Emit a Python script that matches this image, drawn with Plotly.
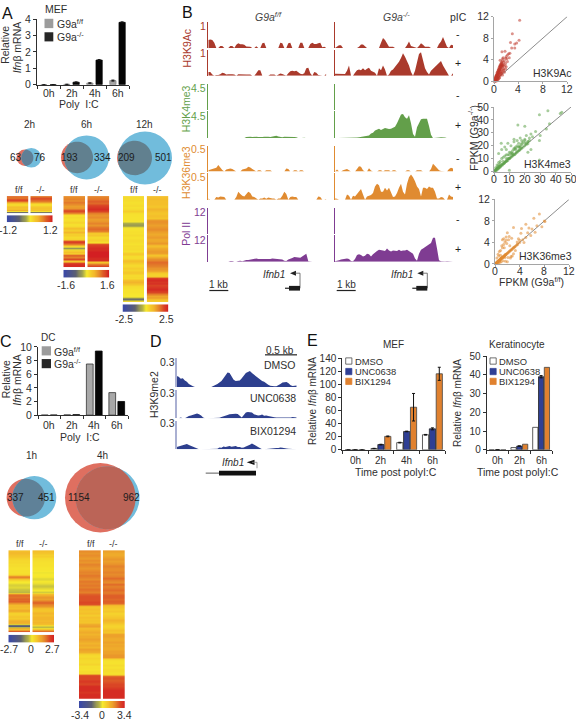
import numpy as np
import plotly.graph_objects as go

# ---------- data ----------
HOURS4 = ["0h", "2h", "4h", "6h"]
HOURS3 = ["0h", "2h", "6h"]
A_FF = [0, 0.02, 0.1, 0.25]
A_KO = [0, 0.15, 1.5, 3.8]
A_FF_ERR = [0, 0, 0.01, 0.03]
A_KO_ERR = [0, 0.02, 0.03, 0.03]
C_FF = [0, 0.03, 7.5, 3.3]
C_KO = [0, 0.06, 9.4, 2.0]
E1_DMSO = [0, 2, 11, 23]
E1_UNC = [0, 8, 28, 32]
E1_BIX = [0, 20.5, 65, 116]
E1_DMSO_ERR = [0, 0.3, 0.5, 0.5]
E1_UNC_ERR = [0, 0.5, 0.5, 1.5]
E1_BIX_ERR = [0, 0.6, 21, 10]
E2_DMSO = [0, 1.2, 12]
E2_UNC = [0, 2, 39]
E2_BIX = [0, 3, 44]
E2_UNC_ERR = [0, 0.1, 0.6]

A2_FF = [.7,.6,.75,.85,.5,.3,.15,.05,.2,.3,.25,.35,.45,-.4,-.7]
A2_KO = [.65,.8,.85,.7,.55,.35,.1,.05,.15,.25,.3,.2,.35,-.3,-.6]
A6_FF = [.55,.6,.5,.65,.55,.45,.5,.8,.85,.55,.05,.1,.05,.1,.2,.05,.1,.3,.2,.35,.15,.2,.1,.15,.85,.9,.6,.1,-.3,.15,.3,.1,.75,.6,.85,.2,.9,.95,.95]
A6_KO = [.6,.65,.75,.7,.85,.9,.95,.85,.6,.5,.55,.45,.5,.6,.5,.65,.7,.6,.2,.25,.1,.15,.2,.05,.85,.9,.95,.95,1,1,1,.95,.95,.2,.65,.85]
A12_FF = [.1,.08,.1,.06,.08,.12,.06,.1,.2,.08,.06,.05,.05,.03,.02,-.2,-.25,-.1,.02,.05,.08,.06,.1,.05,.06,.1,.08,.05,.12,.08,.1,.06,.2,.22,.08,.1,.25,.3,.2,.1,.12,.2,.15,.25,.22,.1,.12,.08,.3,.35,.25,.1,.08,.05,.05,.03,.02,.02,-.2,-.45,.1]
A12_KO = [.3,.32,.28,.3,.3,.25,.3,.35,.3,.25,.28,.3,.25,.5,.55,.5,.45,.5,.55,.5,.45,.4,.45,.5,.4,.42,.5,.35,.3,.4,.45,.5,.45,.25,.4,.55,.6,.7,.65,.6,.5,.5,.4,.2,.15,.2,.9,.95,.9,.95,.85,.9,.95,.9,.85,.6,.4,.5,.3,.2]
C1_FF = [.3,.35,.3,.25,.2,.15,.1,.12,.08,.1,.06,.05,.08,.05,.1,.5,.6,.2,.05,0,-.05,-.08,-.05,-.1,-.12,-.15,.55,.7,.65,.75,.7,.8,.5,.3,.35,.3,.4,.35,.15,.2,.3,.2,.35,.4,.35,-.5,-.6,.4,.2,.8]
C1_KO = [.3,.25,.15,.2,.1,.08,.05,.06,.05,.03,.02,.02,-.02,0,.02,-.05,-.06,0,-.03,-.1,-.12,-.05,0,-.1,.35,.4,.5,.45,.65,.8,.6,.5,.3,.25,.3,.35,.3,.35,.35,.3,.35,.3,-.1,-.2,.3,.7]
C4_FF = [.55,.5,.55,.5,.45,.55,.5,.6,.55,.5,.55,.6,.55,.65,.6,.55,.65,.6,.65,.6,.7,.65,.6,.75,.8,.8,.8,.85,.8,.3,.25,.3,.25,.3,.2,.3,.25,.3,.25,.4,.45,.3,.35,.4,.35,.4,.4,.45,.4,.35,.4,.35,.45,.4,.35,.15,.1,.15,.1,.1,.15,.05,.1,.05,.1,.1,.85,.85,.85,.9,.85,.85,.95,.95,.95,.9,.95,.95,.95]
C4_KO = [.45,.4,.4,.45,.5,.45,.5,.55,.6,.55,.55,.6,.55,.6,.7,.6,.55,.7,.6,.65,.7,.6,.65,.75,.75,.7,.75,.7,.3,.25,.2,.25,.15,.2,.25,.3,.35,.3,.2,.15,.2,.3,.25,.45,.45,.4,.4,.45,.4,.45,.4,.4,.45,.45,.5,.5,.1,.05,.05,.1,.05,.1,.1,.05,.1,.75,.8,.75,.8,.85,.85,.9,.95,.95,.95,.95,.95]
RAMP = [-1,-.9,-.8,-.7,-.6,-.5,-.4,-.3,-.2,-.1,0,.1,.2,.3,.4,.5,.6,.7,.8,.9,1]

K9_FF_M = [.3,.32,.3,.2,0,0,.08,.08,0,0, 0,.08,.08,0,.12,.18,.14,.14,.12,.06, .06,.05,0,0,.07,0,0,.18,.2,0, 0,0,0,0,0,0,.2,.18,0,0, .18,.2,0,0,0,0,.2,.2,0,0, 0,.15,.2,.15,.15,.18,.2,.03,.05,0]
K9_FF_P = [.15,.15,.05,0,.03,.03,.06,.12,.1,.05, .06,.07,.06,.05,0,.06,.05,.05,.04,.05, .05,.05,0,0,.1,.22,.22,0,0,0, 0,.05,.06,.05,0,.06,.09,.07,.03,0, .1,.18,.2,.18,.2,.14,.08,.06,.1,.3, .32,.1,0,.15,.12,.03,0,0,0,.08]
K9_KO_M = [0,.05,.1,.1,0,0,0,0,0,0, 0,0,.05,.13,.13,.06,0,0,0,0, 0,0,0,.2,.38,.3,.15,.05,.05,.05, 0,0,0,0,0,0,.1,.25,.08,.05, 0,0,.08,.18,.12,.05,.05,.05,0,0, 0,0,.15,.25,.42,.2,.05,0,.12,.1]
K9_KO_P = [.08,.08,.07,.07,.08,.07,.2,.4,0,0, .12,.22,.25,.22,.3,.22,.28,.32,.2,.15, .12,0,.3,.22,.4,.25,0,.05,.2,.25, .35,.42,.55,.7,.88,.75,.6,.4,.15,0, .2,.5,.85,.92,.55,.3,.15,.05,.2,.28, .32,.4,.5,.58,.4,.25,.15,0,0,.1]
K4_FF_M = [0,0,0,0,0,0,0,0,.02,0, 0,0,0,0,0,0,0,0,0,0, 0,0,0,0,0,0,0,0,0,0, 0,0,0,0,0,0,0,0,0,0, 0,.02,.02,.02,0,0,0,0,0,0, .02,0,0,0,0,0,0,0,0,0]
K4_FF_P = [0,0,0,0,0,0,.01,0,0,0, 0,0,0,0,0,0,0,0,0,.04, .05,.05,.04,.05,.05,.04,.03,.04,.05,.06, .05,.04,.05,.07,.09,.06,.05,.03,.05,.05, .05,.06,.05,.04,.03,0,0,.01,.01,0, 0,0,0,0,0,0,0,0,0,0]
K4_KO_M = [0,0,0,0,0,0,0,0,0,0, 0,.02,0,0,0,0,0,0,0,0, 0,0,0,0,0,0,0,0,0,0, 0,0,0,0,0,0,0,0,0,0, 0,0,0,0,0,0,0,0,0,0, 0,0,0,0,0,0,0,0,.02,0]
K4_KO_P = [0,0,0,0,0,0,0,0,0,0, 0,.02,.03,.04,.05,.06,.08,.1,.17,.2, .28,.33,.35,.3,.34,.38,.36,.34,.35,.38, .42,.55,.7,.88,.9,.78,.72,.85,.55,.15, .05,.4,.55,.7,.72,.72,.72,.45,.12,0, 0,.01,.02,.03,.03,.02,0,0,0,0]
K36_FF_M = [.05,.08,.08,.12,.15,.25,.15,.06,0,.08, .1,.12,.1,.04,0,0,0,.08,.1,.12, .18,.16,.1,.05,0,.05,.05,0,0,.05, .05,.05,0,0,0,0,0,0,0,.12, .1,0,0,.05,.05,0,.05,.05,0,0, 0,0,0,0,0,0,0,0,0,0]
K36_FF_P = [.05,0,0,0,.1,.08,.12,.1,.1,0, 0,0,0,0,.1,.3,.22,.15,.12,.2, .3,.25,.12,.1,.05,0,.05,.05,.08,.04, .08,.05,.05,.05,0,.05,.05,.15,.3,.22, 0,.1,.12,.1,.1,0,0,0,0,0, 0,0,0,0,0,.12,.1,0,0,.03]
K36_KO_M = [0,.08,0,0,.05,.08,.1,.05,0,0, 0,.1,.2,.18,.05,0,0,.13,.04,0, 0,0,.05,.05,0,.05,.05,.05,0,.05, .05,0,0,0,0,0,.05,.05,0,0, 0,.05,.05,.05,0,0,0,0,.1,.3, .22,.12,.05,.02,0,0,0,.1,.15,.12]
K36_KO_P = [.05,.04,0,0,0,0,.2,.15,0,.15, .12,.2,.3,.4,.2,0,.12,.15,.18,.25, .5,.6,.55,.3,.3,.45,.35,.45,.3,.1, .12,.25,.45,.6,.3,.2,.6,.85,.95,.85, .7,.5,.4,.12,.45,.45,.4,.5,.45,.45, .3,.05,.05,.1,.08,0,0,.2,.12,.1]
P2_FF_M = [0,0,0,0,0,0,0,0,0,0, 0,0,0,0,0,0,0,0,0,0, 0,0,0,0,0,0,0,0,0,0, 0,0,0,0,0,0,0,0,0,0, 0,0,0,0,0,0,0,0,0,0, 0,0,0,0,0,0,0,0,0,0]
P2_FF_P = [0,0,0,0,0,.02,.02,.01,0,0, 0,.03,.03,0,0,.03,.04,.02,.05,.06, .06,.08,.1,.1,.12,.1,.1,.08,.09,.1, .1,.1,.12,.11,.1,.1,.09,.08,.04,.03, .08,.1,.14,.18,.18,.16,.15,.2,.25,.3, .02,0,0,0,0,0,0,0,0,0]
P2_KO_M = [0,0,0,0,0,0,0,0,0,0, 0,0,0,0,0,0,0,0,0,0, 0,0,0,0,0,0,0,0,0,0, 0,0,0,0,0,0,0,0,0,0, 0,0,0,0,0,0,0,0,0,0, 0,0,0,0,0,0,0,0,0,0]
P2_KO_P = [.02,.03,.05,.08,.1,.1,.12,.1,.03,.02, .1,.25,.28,.25,.2,.22,.3,.28,.2,.28, .35,.4,.45,.42,.42,.4,.5,.42,.38,.42, .4,.4,.45,.4,.42,.42,.45,.4,.35,.3, .12,.04,.3,.45,.5,.55,.6,.65,.7,.9, .9,.5,.05,.02,.01,.01,.02,.02,.02,0]
D_DMSO = [.38,.35,.28,.3,.22,.18,.1,.05,.02,0, 0,0,0,0,0,0,0,0,.03,.06, .1,.15,.2,.3,.42,.5,.48,.38,.25,.2, .2,.22,.3,.4,.48,.52,.55,.48,.42,.35, .3,.25,.2,.18,.12,.07,.04,.02,.02,.02, .05,.1,.15,.17,.17,.13,.06,.03,.03,.05]
D_UNC = [0,0,.03,0,0,.05,.08,.1,.12,.15, .17,.14,.1,.03,0,0,0,0,.02,.02, .02,.02,.05,.08,.1,.12,.14,.15,.17,.16, .15,.1,.03,.12,.2,.22,.21,.2,.14,.12, .1,.11,.13,.09,.1,.08,.06,.05,.04,.03, .03,.02,.02,.01,.02,.02,.03,.05,.05,.03]
D_BIX = [.08,.1,.12,.14,.17,.18,.15,.12,.08,.05, .03,0,0,0,0,0,0,0,0,0, .02,.06,.05,.1,.08,.1,.11,.09,.1,.11, .08,.08,.05,.06,.1,.12,.16,.2,.17,.12, .08,.04,0,0,.01,.02,.03,.03,.05,.04, .04,.06,.05,.03,.03,.02,.01,.01,0,0]

S9_X = [4.2,3,4.1,3.7,3.4,2.7,2.9,3.4,1.3,1.8,2.4,2.2,2.6,2,1.5,1.9,2.1,2.5,1.4,1.7,2.2,1,1.3,1.6,1.9,1.2,1.5,1.8,2,1.1,1.4,1.6,1,1.2,1.5,.9,1.1,1.3,1.7,.8,1,1.2,.7,.9,1.1,1.4,.6,.8,1,.5,.7,.9,.4,.6,.8,.3,.5,.7,.2,.4,.6,.1,.2,.3,.4,.15,.25,.1,.05,.5,1.3,1.6,1.9,.35,.45,.55,.65,.75,.85,.95,1.05,1.15,1.25,1.35,
        .1,.15,.2,.25,.3,.35,.4,.45,.5,.55,.6,.65,.7,.75,.8,.85,.9,.95,1,1.1,1.2,1.3,1.4,1.5,.2,.3,.4,.5,.6,.7,.8,.9,1,1.1,1.2]
S9_Y = [11.3,8.8,7.6,7.1,6.9,7.2,6.2,6.2,5.5,5.6,5.1,4.9,5.2,4.6,4.4,4.3,4.2,4.4,4.2,3.8,3.7,3.9,3.4,3.5,3.3,3.1,3,2.9,2.7,2.8,2.6,2.4,2.3,2.2,2.1,2,1.9,1.8,1.7,1.7,1.5,1.5,1.4,1.3,1.3,1.2,1.1,1,1,.9,.8,.7,.7,.6,.6,.5,.4,.4,.3,.3,.3,.2,.15,.2,.1,.1,.1,.05,.05,.55,1.6,2,2.3,.9,1.2,1.5,1.9,2.2,2.6,2.9,3.1,3.3,3.6,3.8,
        .3,.45,.5,.7,.8,.75,1,1.1,1.1,1.3,1.35,1.5,1.6,1.7,1.9,2,2.1,2.3,2.4,2.5,2.7,2.8,3,3.1,.6,1,1.2,1.6,1.8,2.1,2.3,2.5,2.8,2.9,3.2]
S4_X = [44,43,35,29.5,36,34,30,27,25,24,23,21,20,22,18,17,16,15.5,20,14,13,12,11,10,9,8,7,6,5,4,3,2,1,.5,1,2,3,4,5,6,7,8,9,10,11,12,13,14,15,16,17,18,19,20,21,22,23,3,5,7,9,11,13,15,17,4.7,13,8,10,29.5,29.5,24,22,
        1,1.5,2,2.5,3,3.5,4,4.5,5,5.5,6,6.5,7,7.5,8,8.5,9,9.5,10,10.5,11,11.5,12,12.5,13,13.5,14,14.5,15,15.5,16,16.5,17,17.5,18,19,20,21,22,2,3,4,6,8,10,12,14,16,18,20,.8,1.2,1.8,2.2,2.8,3.2,3.8]
S4_Y = [46,45,47,44,37,33,28,31,27,29,26,28,25,23,24,20,22,36,35,19,17,14,14,10,10,8,7,6,5,4,3,2,1,.5,3,5,7,8,10,11,12,13,13,15,15,16,18,18,20,19,19,22,23,22,22,23,24,14,17,19,22,20,25,24,26,22,23,17,1,24,9,17,15,
        1,1.5,2.4,2.3,3,3.8,4,4.2,5.3,5,6.1,6.2,7,7.8,8,8.9,8.6,9.8,10,10.7,11,12,12,12.8,13,13.2,14,15,15,15.9,16,16.4,17,18,18,19,20,21,21.5,3.5,5,6.2,8,10,13,14,17,19,21,24,.5,1.6,1,2.8,2.2,4,3.2]
S36_X = [7.2,6.3,8,5,4.3,4.2,3,2,2.3,1.8,2.7,3.8,3.6,4,5.5,6.8,6,5.3,6.5,7.6,8.1,5,4.5,4,3.6,3.2,3,2.8,2.6,2.4,2.2,2,1.8,1.6,1.4,1.2,1,.8,.6,.4,.2,.1,.3,.5,.7,.9,1.1,1.3,1.5,1.7,1.9,2.1,2.3,2.5,2.7,2.9,3.1,3.3,3.5,3.7,.5,.7,.9,1.2,1.4,1.6,1.8,2.2,2.6,3,1,1.3,1.7,2.1,.4,.6,.8,.3,1.1,1.5,1.9,2.4,2.8,1.2,1.6,2,2.5,3.3,4.7,5.8,.6,.9,1.4,
         .15,.25,.35,.45,.55,.65,.75,.85,.95,1.05,1.15,1.25,1.35,1.45,1.55,1.65,1.75,.2,.4,.6,.8,1,1.2]
S36_Y = [9.3,8.5,8,7.4,6.6,5.7,6.8,5.8,5.1,5,4.8,4.7,4.1,4.4,6.7,7.1,6.5,5.8,5.9,6.9,7.9,4.9,4.5,4,3.6,3.2,3,2.8,2.6,2.4,2.2,2,1.8,1.6,1.4,1.2,1,.8,.6,.4,.2,.1,.3,.5,.7,.9,1.1,1.3,1.5,1.7,1.9,2.1,2.3,2.5,2.7,2.9,3.1,3.3,3.5,3.7,1.8,2.3,2.5,3,3.6,4.1,4.4,4.5,1.4,1.9,.4,.6,.5,1.2,.1,.2,.3,1.1,3.4,3,3.8,3.4,1.5,4.5,1.2,.4,1.1,2.5,4,5.3,1.5,1.6,4.7,
         .2,.2,.3,.45,.5,.7,.7,.9,.9,1.1,1.1,1.3,1.3,1.5,1.5,1.7,1.7,.1,.35,.55,.75,1.05,1.15]

SANS = "Liberation Sans"
INK = "#2f2f2f"
HEAT = [[0,"#3c4aa5"],[.25,"#5d6072"],[.4,"#a8a84c"],[.5,"#f6e92f"],[.65,"#f4bf2b"],[.8,"#e5832b"],[1,"#d31f22"]]

fig = go.Figure()
layout = dict(width=576, height=725, margin=dict(l=0,r=0,t=0,b=0), autosize=False,
              paper_bgcolor="white", plot_bgcolor="rgba(0,0,0,0)", showlegend=False,
              font=dict(family=SANS, color=INK, size=10), barmode="group")
W, H = 576, 725
axis_n = [1]
annots, shapes = [], []

HIDE = dict(visible=False, showgrid=False, zeroline=False, fixedrange=True)
layout["xaxis"] = dict(HIDE, domain=[0,1], range=[0,W])
layout["yaxis"] = dict(HIDE, domain=[0,1], range=[H,0])
fig.add_trace(go.Scatter(x=[0], y=[0], mode="markers", marker=dict(size=1, opacity=0), hoverinfo="skip"))

def axes(x0, x1, yt, yb, xa, ya):
    axis_n[0] += 1
    n = axis_n[0]
    layout[f"xaxis{n}"] = dict(xa, domain=[x0/W, x1/W], anchor=f"y{n}")
    layout[f"yaxis{n}"] = dict(ya, domain=[1-yb/H, 1-yt/H], anchor=f"x{n}")
    return f"x{n}", f"y{n}"

def T(x, y, s, size=10, color=INK, anchor="center", angle=0):
    annots.append(dict(x=x, y=y, xref="x", yref="y", text=s, showarrow=False, xanchor=anchor, yanchor="middle",
                       textangle=angle, font=dict(family=SANS, size=size, color=color), borderpad=0))

def rect(x0, y0, x1, y1, fill, line=None, w=0.7):
    shapes.append(dict(type="rect", xref="x", yref="y", x0=x0, y0=y0, x1=x1, y1=y1, fillcolor=fill,
                       line=dict(color=line or fill, width=w if line else 0)))

def seg(x0, y0, x1, y1, color=INK, w=1):
    shapes.append(dict(type="line", xref="x", yref="y", x0=x0, y0=y0, x1=x1, y1=y1, line=dict(color=color, width=w)))

def tri(xt, xb, y, h, color=INK):
    shapes.append(dict(type="path", xref="x", yref="y", path=f"M {xt} {y} L {xb} {y-h} L {xb} {y+h} Z", fillcolor=color, line=dict(width=0)))

def barpanel(x0, x1, yt, yb, cats, series, ymax, yticks, gap, labely, size=10.5):
    m = len(cats)
    xa = dict(range=[-.5, m-.5], showline=True, linecolor=INK, linewidth=1, ticks="outside", ticklen=3, tickcolor=INK,
              tickvals=[i-.5 for i in range(m+1)], showticklabels=False, showgrid=False, zeroline=False, fixedrange=True)
    ya = dict(range=[0, ymax], showline=True, linecolor=INK, linewidth=1, ticks="outside", ticklen=3, tickcolor=INK,
              tickvals=yticks, tickfont=dict(family=SANS, size=size, color=INK), showgrid=False, zeroline=False, fixedrange=True)
    xn, yn = axes(x0, x1, yt, yb, xa, ya)
    for vals, col, lc, err in series:
        fig.add_trace(go.Bar(x=list(range(m)), y=vals, marker=dict(color=col, line=dict(color=lc, width=.8)),
                             width=gap, offsetgroup=col, xaxis=xn, yaxis=yn,
                             error_y=dict(type="data", array=err, color="#111", thickness=1, width=1.5, visible=err is not None)))
    step = (x1-x0)/m
    for i, c in enumerate(cats):
        T(x0+step*(i+.5), labely, c, size)

def heat(x0, x1, yt, yb, rows):
    xn, yn = axes(x0, x1, yt, yb, dict(HIDE), dict(HIDE, autorange="reversed"))
    fig.add_trace(go.Heatmap(z=[[v, v] for v in rows], zmin=-1, zmax=1, colorscale=HEAT, showscale=False, zsmooth="best",
                             xaxis=xn, yaxis=yn, hoverinfo="skip"))

def ramp(x0, x1, yt, yb):
    xn, yn = axes(x0, x1, yt, yb, dict(HIDE), dict(HIDE))
    fig.add_trace(go.Heatmap(z=[RAMP, RAMP], zmin=-1, zmax=1, colorscale=HEAT, showscale=False, zsmooth="best",
                             xaxis=xn, yaxis=yn, hoverinfo="skip"))

def track(vals, color, x0, x1, yt, yb, axcol=None, axw=1):
    xa = dict(HIDE, range=[0, len(vals)-1])
    ya = dict(range=[0,1], showline=True, linecolor=axcol or color, linewidth=axw, ticks="", showticklabels=False,
              tickmode="array", tickvals=[], showgrid=False, zeroline=False, fixedrange=True)
    xn, yn = axes(x0, x1, yt, yb, xa, ya)
    fig.add_trace(go.Scatter(x=list(range(len(vals))), y=vals, mode="lines", fill="tozeroy", fillcolor=color,
                             line=dict(color=color, width=0), xaxis=xn, yaxis=yn, hoverinfo="skip"))

def scatter(x0, x1, yt, yb, lim, ticks, X, Y, color):
    def ax(show):
        return dict(range=[0, lim], showline=True, linecolor="#a5a5a5", linewidth=1, ticks="outside", ticklen=2, tickcolor="#a5a5a5",
                    tickvals=ticks, showticklabels=show, tickfont=dict(family=SANS, size=10.5, color=INK), showgrid=False, zeroline=False, fixedrange=True)
    xn, yn = axes(x0, x1, yt, yb, ax(False), ax(True))
    fig.add_trace(go.Scatter(x=[0, lim], y=[0, lim], mode="lines", line=dict(color="#6e6e6e", width=.8), xaxis=xn, yaxis=yn, hoverinfo="skip"))
    fig.add_trace(go.Scatter(x=X, y=Y, mode="markers", marker=dict(color=color, size=3, opacity=.55, line=dict(width=0)), cliponaxis=False, xaxis=xn, yaxis=yn, hoverinfo="skip"))
    for t in ticks:
        T(x0+(x1-x0)*t/lim, yb+7.6, str(t), 10.5)

def lens(c1, c2):
    (x1, y1, r1), (x2, y2, r2) = c1, c2
    d = np.hypot(x2-x1, y2-y1)
    a = (d*d + r1*r1 - r2*r2)/(2*d)
    t1 = np.arccos(np.clip(a/r1, -1, 1))
    t2 = np.arccos(np.clip((d-a)/r2, -1, 1))
    th = np.arctan2(y2-y1, x2-x1)
    A = [(x1+r1*np.cos(th+u), y1+r1*np.sin(th+u)) for u in np.linspace(-t1, t1, 40)]
    B = [(x2+r2*np.cos(th+np.pi+u), y2+r2*np.sin(th+np.pi+u)) for u in np.linspace(-t2, t2, 40)]
    return "M " + " L ".join(f"{px:.2f} {py:.2f}" for px, py in A+B) + " Z"

RED, BLUE = "#df6f60", "#71bcdc"
def venn(red, blue, overlap, la, lb, xa, xb, size=10):
    for (cx, cy, r), col in ((red, RED), (blue, BLUE)):
        shapes.append(dict(type="circle", xref="x", yref="y", x0=cx-r, x1=cx+r, y0=cy-r, y1=cy+r, fillcolor=col, line=dict(width=0)))
    shapes.append(dict(type="path", xref="x", yref="y", path=lens(red, blue), fillcolor=overlap, line=dict(width=0)))
    T(xa, red[1], la, size, "#1c1c1c")
    T(xb, red[1], lb, size, "#1c1c1c")

REL = "Relative"
IFN = "<i>Ifn</i>β mRNA"
FF = "G9a<sup>f/f</sup>"
KO = "G9a<sup>-/-</sup>"

# panel letters
for s, x, y in (("A",7,8),("B",187,7),("C",6,341),("D",156,341),("E",312,340)):
    T(x, y, s, 16, "#111")

# ---- A bars
barpanel(37, 129, 13.3, 80, HOURS4, [(A_FF,"#a3a3a3","#888",A_FF_ERR),(A_KO,"#050505","#050505",A_KO_ERR)], 4, [0,1,2,3,4], .27, 88.5)
T(79.3, 99.3, "Poly  I:C", 10.5)
T(5.5, 40, REL, 10.5, angle=-90); T(17, 42, IFN, 10.5, angle=-90)
T(44, 3.5, "MEF", 10.5, anchor="left")
rect(44.5, 13, 53.3, 22.5, "#9c9c9c"); rect(44.5, 26.7, 53.3, 36, "#262626")
T(56, 18, FF, 10.5, anchor="left"); T(56, 31, KO, 10.5, anchor="left")

# ---- A venn
T(29, 120, "2h", 10); T(86, 120, "6h", 10); T(144, 120, "12h", 10)
venn((25,154.3,8.4),(31.3,154.3,10),"#5f7f96","63","76",16,39.5)
venn((77,154,16),(86.6,154,22.4),"#61808f","193","334",69,102)
venn((134.5,154.5,17.5),(145,154.5,27),"#61808f","209","501",126,163.5)

# ---- A heat
for x, s in ((19.3,"f/f"),(40,"-/-"),(74,"f/f"),(98,"-/-"),(133.5,"f/f"),(157,"-/-")):
    T(x, 187.3, s, 9)
heat(6.7,28.3,193.3,211,A2_FF); heat(30.3,52,193.3,211,A2_KO); ramp(6.7,52.7,212.7,220)
T(8,227.7,"-1.2",10.5); T(50,227.7,"1.2",10.5)
heat(63.3,85,193.3,265.7,A6_FF); heat(87.3,109.3,193.3,265.7,A6_KO); ramp(63.3,109.3,268.3,276)
T(65.7,283.3,"-1.6",10.5); T(107,283.3,"1.6",10.5)
heat(123,144.3,193.3,301,A12_FF); heat(146.7,168.3,193.3,301,A12_KO); ramp(122.5,168.3,303.3,311)
T(124,318.3,"-2.5",10.5); T(166.7,318.3,"2.5",10.5)

# ---- B tracks
COLS = dict(k9="#aa3a2c", k4="#639f4a", k36="#e08b31", p2="#7f3c92")
ROWS = [("k9",16,42.7,K9_FF_M,K9_KO_M),("k9",45,71,K9_FF_P,K9_KO_P),
        ("k4",79,105.7,K4_FF_M,K4_KO_M),("k4",107,134.3,K4_FF_P,K4_KO_P),
        ("k36",142,168.3,K36_FF_M,K36_KO_M),("k36",170,197,K36_FF_P,K36_KO_P),
        ("p2",205,231.7,P2_FF_M,P2_KO_M),("p2",233,260,P2_FF_P,P2_KO_P)]
for key, yt, yb, ff, ko in ROWS:
    track(ff, COLS[key], 208.3, 326.3, yt, yb)
    track(ko, COLS[key], 335, 453, yt, yb)
for y, s, key in ((20,"1","k9"),(48,"1","k9"),(83,"4.5","k4"),(112,"4.5","k4"),(145,"0.5","k36"),(174,"0.5","k36"),(209,"12","p2"),(237.7,"12","p2")):
    T(207, y, s, 10.5, COLS[key], anchor="right")
T(186.7,42.5,"H3K9Ac",10.5,COLS["k9"],angle=-90)
T(186,105,"H3K4me3",10.5,COLS["k4"],angle=-90)
T(185.7,169,"H3K36me3",10.5,COLS["k36"],angle=-90)
T(186,231.7,"Pol II",10.5,COLS["p2"],angle=-90)
T(268,11,"<i>G9a<sup>f/f</sup></i>",10.5,"#444"); T(396.7,11,"<i>G9a<sup>-/-</sup></i>",10.5,"#444"); T(458,11,"pIC",10.5)
for y, s in ((28,"-"),(58,"+"),(91,"-"),(120.7,"+"),(154.3,"-"),(184.3,"+"),(217,"-"),(247,"+")):
    T(458, y, s, 10.5, "#222")
for tx, vx in ((274,300),(401.7,427.3)):
    T(tx, 273, "<i>Ifnb1</i>", 10)
    tri(vx-10, vx-4, 271.7, 2.5, "#222")
    seg(vx-5, 271.7, vx, 271.7, "#555", .8); seg(vx, 271.7, vx, 287, "#555", .8)
    seg(vx-15, 287, vx-10, 287, "#222", 1.2)
    rect(vx-11, 284.6, vx, 289.4, "#1c1c1c")
for x0 in (209.3, 336.7):
    seg(x0, 289.3, x0+19, 289.3, "#222", 1.2)
    T(x0+9.5, 283, "1 kb", 10)

# ---- B scatter
scatter(494,567.3,10.7,76.7,12,[0,4,8,12],S9_X,S9_Y,"#c0392b")
T(552.7,67.7,"H3K9Ac",10.5)
scatter(494,571,102.7,168.3,50,[0,10,20,30,40,50],S4_X,S4_Y,"#5ea24a")
T(547.7,161,"H3K4me3",10.5)
scatter(495,569,196.7,262.3,12,[0,4,8,12],S36_X,S36_Y,"#e08b31")
T(545,254,"H3K36me3",10.5)
T(473,134,"FPKM (G9a<sup>-/-</sup>)",10.5,angle=-90)
T(531.7,280.5,"FPKM (G9a<sup>f/f</sup>)",10.5)

# ---- C bars
barpanel(38, 128, 346.7, 416, HOURS4, [(C_FF,"#a8a8a8","#333",None),(C_KO,"#050505","#050505",None)], 10, [0,2,4,6,8,10], .3, 425.7)
T(80, 438, "Poly  I:C", 10.5)
T(5.5, 380, REL, 10.5, angle=-90); T(17, 380, IFN, 10.5, angle=-90)
T(40, 336.7, "DC", 10, anchor="left")
rect(41.7,346,51,355.3,"#9c9c9c"); rect(41.7,359,51,368.3,"#262626")
T(53.3,351,FF,10.5,anchor="left"); T(53.3,364,KO,10.5,anchor="left")

# ---- C venn
T(31.7,456.7,"1h",10); T(102,456.7,"4h",10)
venn((25.8,500,19.2),(34.3,500,22),"#5f8198","337","451",15,46.7)
venn((100.3,500,35.3),(107.5,500,32),"#bb6457","1154","962",79,131)
for x, s in ((20,"f/f"),(43,"-/-"),(90.7,"f/f"),(113.7,"-/-")):
    T(x, 547, s, 9)
heat(8.3,30,553.3,636.7,C1_FF); heat(32.3,54,553.3,636.7,C1_KO); ramp(8.3,54,639.3,647.3)
T(9,654,"-2.7",10.5); T(31.3,654,"0",10.5); T(52.3,654,"2.7",10.5)
heat(79,100.7,553.3,704.3,C4_FF); heat(103,124.7,553.3,704.3,C4_KO); ramp(79,124.7,706.7,714.3)
T(80,720.7,"-3.4",10.5); T(101.7,720.7,"0",10.5); T(124,720.7,"3.4",10.5)

# ---- D
NAVY = "#2d3f8e"; AXD = "#aab0d2"
track(D_DMSO, NAVY, 176.7, 296.7, 358, 387.3, AXD, 1.6)
track(D_UNC, NAVY, 176.7, 296.7, 390, 419.3, AXD, 1.6)
track(D_BIX, NAVY, 176.7, 296.7, 421.7, 450.7, AXD, 1.6)
for y in (362.3, 393.3, 424.3):
    T(176, y, "0.3", 10.5, anchor="right")
T(154.5, 395, "H3K9me2", 10.5, angle=-90)
T(280, 350, "0.5 kb", 10); seg(265, 354.7, 297, 354.7, "#222", 1.2)
T(296.7, 365, "DMSO", 10.5, anchor="right"); T(296.7, 399, "UNC0638", 10.5, anchor="right"); T(296.7, 432.3, "BIX01294", 10.5, anchor="right")
T(232.7, 464.3, "<i>Ifnb1</i>", 10)
tri(246.7, 254.5, 464, 2.6, "#111"); seg(252, 464, 257, 464, "#888", .8); seg(257, 464, 257, 470, "#888", .8)
seg(205.7, 475, 219, 475, "#777", 1.2); rect(219, 472.6, 256, 477.4, "#111")

# ---- E
WHITE, BLUE2, ORANGE = "#ffffff", "#2f3f94", "#e0812f"
barpanel(342.3,445.3,358,451.3,HOURS4,[(E1_DMSO,WHITE,"#333",E1_DMSO_ERR),(E1_UNC,BLUE2,"#222",E1_UNC_ERR),(E1_BIX,ORANGE,"#444",E1_BIX_ERR)],140,list(range(0,141,20)),.24,462.3,10)
T(393.3,344,"MEF",10); T(395.7,474,"Time post polyI:C",10.5)
T(312.7,402,"Relative "+IFN,10,angle=-90)
barpanel(486.7,552,356,451.3,HOURS3,[(E2_DMSO,WHITE,"#333",None),(E2_UNC,BLUE2,"#222",E2_UNC_ERR),(E2_BIX,ORANGE,"#444",None)],50,[0,10,20,30,40,50],.24,462.3,10)
T(516.7,344,"Keratinocyte",10); T(518.3,474,"Time post polyI:C",10.5)
T(457.7,404,"Relative "+IFN,10,angle=-90)
for x0 in (345.7, 490):
    for y, col, s in ((361,WHITE,"DMSO"),(371.7,BLUE2,"UNC0638"),(381.7,ORANGE,"BIX1294")):
        rect(x0, y-3.2, x0+6.2, y+3.2, col, "#333" if col == WHITE else col)
        T(x0+8.2, y, s, 9.4, anchor="left")

layout["annotations"] = annots
layout["shapes"] = shapes
fig.update_layout(**layout)
fig.write_html("out.html", config=dict(displayModeBar=False, staticPlot=True),
               post_script="document.body.style.margin='0';document.body.style.overflow='hidden';")
